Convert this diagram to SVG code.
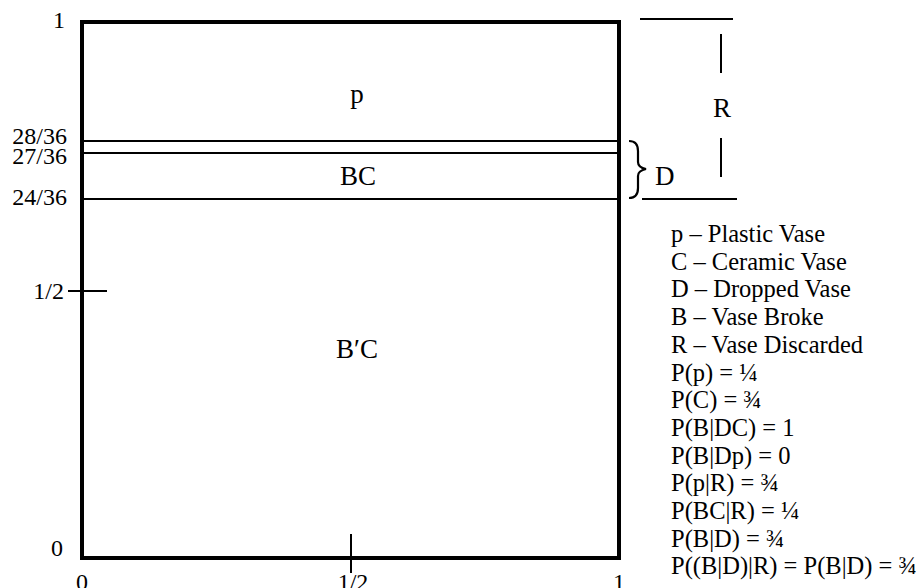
<svg xmlns="http://www.w3.org/2000/svg" width="922" height="588" viewBox="0 0 922 588">
<style>
text{font-family:"Liberation Serif","Times New Roman",serif;fill:#000}
.t{font-size:24px}
.g{font-size:24.5px}
.l{font-size:27px}
.m{text-anchor:middle}
.e{text-anchor:end}
.ln{stroke:#000;stroke-width:2;fill:none}
</style>
<rect width="922" height="588" fill="#fff"/>
<g id="box">
<rect x="82" y="22" width="537" height="536" fill="none" stroke="#000" stroke-width="4"/>
<line class="ln" x1="82" y1="141" x2="619" y2="141"/>
<line class="ln" x1="82" y1="153" x2="619" y2="153"/>
<line class="ln" x1="82" y1="199" x2="619" y2="199"/>
<line class="ln" x1="68" y1="291" x2="107" y2="291"/>
<line class="ln" x1="351" y1="534" x2="351" y2="573"/>
</g>
<g id="regions">
<text class="l m" x="357" y="103">p</text>
<text class="l m" x="358" y="185">BC</text>
<text class="l m" x="357" y="358">B′C</text>
</g>
<g id="axis">
<text class="t" x="53" y="28">1</text>
<text class="t e" x="67" y="144">28/36</text>
<text class="t e" x="67" y="164">27/36</text>
<text class="t e" x="67" y="205">24/36</text>
<text class="t e" x="64" y="299">1/2</text>
<text class="t" x="51" y="556">0</text>
<text class="t m" x="82" y="590">0</text>
<text class="t m" x="353" y="590">1/2</text>
<text class="t m" x="619" y="590">1</text>
</g>
<g id="R">
<line class="ln" x1="640" y1="19" x2="733" y2="19"/>
<line class="ln" x1="642" y1="199" x2="737" y2="199"/>
<line class="ln" x1="721" y1="34" x2="721" y2="73"/>
<line class="ln" x1="721" y1="138" x2="721" y2="177"/>
<text class="l m" x="722" y="117">R</text>
</g>
<g id="D">
<path d="M629,141 C636,141 638,145 638,151 L638,162 C638,166 641,168 646,169 C641,170 638,172 638,176 L638,188 C638,194 636,198 629,198" fill="none" stroke="#000" stroke-width="2.2"/>
<text class="l" x="655" y="185">D</text>
</g>
<g id="legend">
<text class="g" x="671" y="242">p – Plastic Vase</text>
<text class="g" x="671" y="269.7">C – Ceramic Vase</text>
<text class="g" x="671" y="297.4">D – Dropped Vase</text>
<text class="g" x="671" y="325.1">B – Vase Broke</text>
<text class="g" x="671" y="352.8">R – Vase Discarded</text>
<text class="g" x="671" y="380.5">P(p) = ¼</text>
<text class="g" x="671" y="408.2">P(C) = ¾</text>
<text class="g" x="671" y="435.9">P(B|DC) = 1</text>
<text class="g" x="671" y="463.6">P(B|Dp) = 0</text>
<text class="g" x="671" y="491.3">P(p|R) = ¾</text>
<text class="g" x="671" y="519">P(BC|R) = ¼</text>
<text class="g" x="671" y="546.7">P(B|D) = ¾</text>
<text class="g" x="671" y="574.4">P((B|D)|R) = P(B|D) = ¾</text>
</g>
</svg>
